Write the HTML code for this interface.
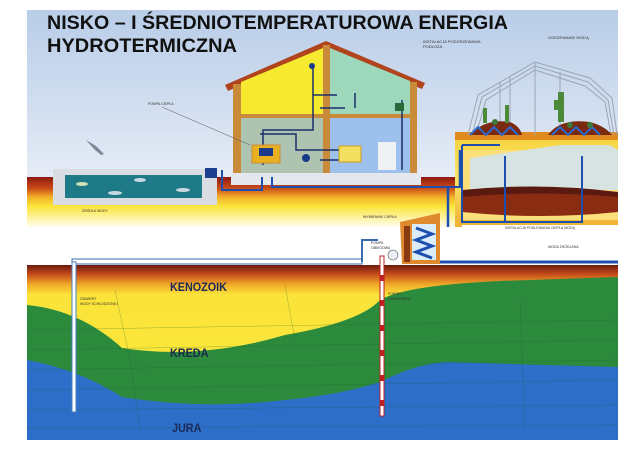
<!DOCTYPE html>
<html><head><meta charset="utf-8"><style>
html,body{margin:0;padding:0;background:#fff;width:640px;height:452px;overflow:hidden}
svg{display:block}
text{font-family:"Liberation Sans",sans-serif}
</style></head><body>
<svg width="640" height="452" viewBox="0 0 640 452" xmlns="http://www.w3.org/2000/svg">
<defs>
<linearGradient id="sky" x1="0" y1="0" x2="0" y2="1">
<stop offset="0" stop-color="#b9cde8"/><stop offset="0.6" stop-color="#d3dff0"/><stop offset="1" stop-color="#e6edf7"/></linearGradient>
<linearGradient id="gnd" x1="0" y1="0" x2="0" y2="1">
<stop offset="0" stop-color="#8e1a12"/><stop offset="0.22" stop-color="#c84a18"/><stop offset="0.4" stop-color="#f3b028"/><stop offset="0.58" stop-color="#fbe53a"/><stop offset="1" stop-color="#fffdf0"/></linearGradient>
<linearGradient id="geo" x1="0" y1="0" x2="0" y2="1">
<stop offset="0" stop-color="#6a1a10"/><stop offset="0.05" stop-color="#c2481a"/><stop offset="0.11" stop-color="#f0a828"/><stop offset="0.17" stop-color="#fbe43a"/><stop offset="1" stop-color="#fbe83a"/></linearGradient>
<linearGradient id="gh" x1="0" y1="0" x2="0" y2="1">
<stop offset="0" stop-color="#f6d23a"/><stop offset="0.5" stop-color="#fbe46a"/><stop offset="1" stop-color="#f0b030"/></linearGradient>
</defs>
<rect x="0" y="0" width="640" height="452" fill="#fff"/>
<rect x="27" y="10" width="591" height="170" fill="url(#sky)"/>
<rect x="27" y="177" width="435" height="50" fill="url(#gnd)"/>
<rect x="455" y="132" width="163" height="95" fill="url(#gh)"/>
<path d="M455 132 L618 132 L618 140 L455 140Z" fill="#e08a20"/>
<rect x="462" y="150" width="156" height="70" fill="#fbe07a"/>
<path d="M470 158 L560 145 L610 145 L618 150 L618 190 L470 190Z" fill="#cfe3f3" opacity="0.85"/>
<path d="M462 195 Q540 185 618 195 L618 212 Q540 220 462 212Z" fill="#8a2c12"/>
<path d="M462 190 Q540 182 618 192 L618 197 Q540 190 462 197Z" fill="#5a1a10"/>
<path d="M462 145 L462 222 L582 222 L582 156 M505 156 L505 222 M462 145 L500 145" stroke="#1d4fb0" stroke-width="2" fill="none"/>
<rect x="462" y="225" width="156" height="40" fill="#fff"/>
<g stroke="#9aa6b4" stroke-width="1" fill="none">
<path d="M468 135 L478 95 L535 62 L590 78 L612 98 L617 135"/>
<path d="M472 135 L482 97 L535 66 L588 82 L608 100 L614 135"/>
<path d="M476 135 L486 100 L535 70 L585 86 L605 102 L611 135"/>
<path d="M535 62 L535 135 M510 77 L510 135 M560 72 L560 135 M500 82 L500 135"/>
</g>
<path d="M470 135 Q485 118 510 122 Q520 126 522 135Z" fill="#7a2a10"/>
<path d="M548 135 Q560 118 590 122 Q605 126 612 135Z" fill="#7a2a10"/>
<path d="M470 135 l8 -8 l8 8 l8 -8 l8 8 l8 -8 l8 8 M552 135 l8 -8 l8 8 l8 -8 l8 8 l8 -8 l8 8" stroke="#2a6ad0" stroke-width="2" fill="none"/>
<rect x="558" y="92" width="6" height="30" fill="#4c8a3a"/><rect x="554" y="100" width="4" height="10" fill="#4c8a3a"/>
<rect x="505" y="105" width="4" height="18" fill="#4c8a3a"/><rect x="483" y="108" width="4" height="15" fill="#4c8a3a"/>
<circle cx="495" cy="122" r="3" fill="#3a7a3a"/><circle cx="570" cy="125" r="3" fill="#3a7a3a"/><circle cx="590" cy="125" r="3" fill="#3a7a3a"/>
<text x="423" y="43" font-size="4" fill="#333">INSTALACJA PODGRZEWANIA</text>
<text x="423" y="48" font-size="4" fill="#333">PODŁOŻA</text>
<text x="548" y="39" font-size="4" fill="#333">OGRZEWANIE WODĄ</text>
<text x="505" y="229" font-size="3.5" fill="#333">INSTALACJA PODLEWANIA CIEPŁĄ WODĄ</text>
<text x="548" y="248" font-size="3.5" fill="#333">WODA ŻRÓDLANA</text>
<rect x="53" y="169" width="164" height="36" fill="#d9dde2"/>
<rect x="65" y="175" width="137" height="23" fill="#1e7a86"/>
<rect x="205" y="168" width="12" height="10" fill="#1d3f8f"/>
<ellipse cx="82" cy="184" rx="6" ry="2" fill="#cfe0b0"/><ellipse cx="140" cy="180" rx="6" ry="2" fill="#c8d8e0"/><ellipse cx="115" cy="193" rx="7" ry="2" fill="#c8d8e0"/><ellipse cx="183" cy="190" rx="7" ry="2" fill="#c8d8e0"/>
<text x="82" y="212" font-size="3.5" fill="#333">ŻRÓDŁA WODY</text>
<path d="M86 140 l10 6 l8 8 l-3 1 l-7 -6Z" fill="#7a8898"/>
<path d="M225 85 L326 41 L425 83 L422 89 L326 48 L228 91Z" fill="#b0441c"/>
<path d="M241 82 L323 48 L323 115 L241 115Z" fill="#f6ea30"/>
<path d="M330 48 L410 81 L410 115 L330 115Z" fill="#9ed8bc"/>
<rect x="241" y="118" width="82" height="55" fill="#aec4b0"/>
<rect x="330" y="118" width="80" height="55" fill="#9ec0ec"/>
<rect x="233" y="84" width="8" height="92" fill="#c98a3a"/>
<rect x="410" y="82" width="7" height="94" fill="#c98a3a"/>
<rect x="323" y="45" width="7" height="131" fill="#c98a3a"/>
<rect x="233" y="114" width="184" height="4" fill="#c98a3a"/>
<rect x="231" y="173" width="190" height="12" fill="#e4e8ec"/>
<g stroke="#1a2f6a" stroke-width="1.5" fill="none">
<path d="M313 68 L313 130 L263 130 L263 165 M313 95 L337 95 M320 108 L345 108 M260 134 L296 134 L296 150 L340 150 M320 160 L340 160 M355 93 L355 108 M402 100 L402 170"/>
</g>
<rect x="252" y="145" width="28" height="18" fill="#e9b020" stroke="#c98a3a"/>
<rect x="259" y="148" width="14" height="8" fill="#1c3a8a"/>
<circle cx="306" cy="158" r="4" fill="#1c3a8a"/>
<rect x="339" y="146" width="22" height="16" fill="#f3e060" stroke="#c8a020"/>
<rect x="378" y="142" width="18" height="28" fill="#eef0f4"/>
<rect x="395" y="103" width="9" height="8" fill="#2a6a3a"/>
<circle cx="312" cy="66" r="3" fill="#1c3a8a"/>
<text x="148" y="105" font-size="3.5" fill="#333">POMPA CIEPŁA</text>
<path d="M162 107 L250 145" stroke="#555" stroke-width="0.5"/>
<path d="M272 177 L272 187 L462 187 M262 177 L262 190 L222 190 L222 170" stroke="#1d4fb0" stroke-width="2" fill="none"/>
<path d="M448 187 L448 262 M460 150 L460 187" stroke="#1d4fb0" stroke-width="2.5" fill="none"/>
<rect x="27" y="227" width="435" height="38" fill="#fff"/>
<rect x="27" y="265" width="591" height="175" fill="url(#geo)"/>
<path d="M27 305 Q80 310 122 348 Q200 360 285 335 Q360 322 380 300 Q410 283 530 280 L618 277 L618 440 L27 440Z" fill="#2c8a3c"/>
<path d="M27 360 Q80 370 122 397 Q200 410 285 400 Q340 395 380 382 Q420 362 450 362 Q540 365 618 367 L618 440 L27 440Z" fill="#2d6ec8"/>
<g stroke="#1a5a2a" stroke-width="0.4" opacity="0.5" fill="none">
<path d="M27 330 L618 320 M27 350 L618 340 M27 370 L618 360 M27 390 L618 380 M27 410 L618 405 M27 428 L618 425"/>
<path d="M115 290 L130 360 L140 430 M285 285 L295 340 M520 300 L525 430"/>
</g>
<text x="170" y="291" font-size="12" font-weight="bold" fill="#1a2a5a" transform="scale(0.9,1)" style="transform-origin:170px 291px">KENOZOIK</text>
<text x="170" y="357" font-size="12" font-weight="bold" fill="#1a2a4a" transform="scale(0.9,1)" style="transform-origin:170px 357px">KREDA</text>
<text x="172" y="432" font-size="12" font-weight="bold" fill="#1a2a5a" transform="scale(0.9,1)" style="transform-origin:172px 432px">JURA</text>
<rect x="72" y="259" width="290" height="5" fill="#fff" stroke="#3a6ab0" stroke-width="1"/>
<path d="M440 262 L618 262" stroke="#1d4fb0" stroke-width="3"/>
<path d="M362 262 L362 240 L378 240" stroke="#3a6ab0" stroke-width="2" fill="none"/>
<rect x="72" y="262" width="4" height="150" fill="#fff" stroke="#4a80c0" stroke-width="1"/>
<rect x="380" y="256" width="4" height="160" fill="#fff" stroke="#c02020" stroke-width="1"/>
<g fill="#c02020"><rect x="380" y="275" width="4" height="6"/><rect x="380" y="300" width="4" height="6"/><rect x="380" y="325" width="4" height="6"/><rect x="380" y="350" width="4" height="6"/><rect x="380" y="375" width="4" height="6"/><rect x="380" y="400" width="4" height="6"/></g>
<text x="80" y="300" font-size="3.5" fill="#333">ODWIERT</text>
<text x="80" y="305" font-size="3.5" fill="#333">WODY SCHŁODZONEJ</text>
<text x="388" y="295" font-size="3.5" fill="#333">POBÓR</text>
<text x="388" y="300" font-size="3.5" fill="#333">JURA/KREDA</text>
<path d="M400 222 L440 213 L440 264 L402 264Z" fill="#e08a30"/>
<rect x="404" y="226" width="6" height="36" fill="#8a3a10"/>
<rect x="412" y="224" width="24" height="36" fill="#d9ecf8"/>
<path d="M416 228 l16 6 l-16 6 l16 6 l-16 6 l16 6" stroke="#1d4fb0" stroke-width="3" fill="none"/>
<circle cx="393" cy="255" r="5" fill="#e8eef4" stroke="#555" stroke-width="0.6"/>
<text x="363" y="218" font-size="3.5" fill="#333">WYMIENNIK CIEPŁA</text>
<text x="371" y="244" font-size="3.5" fill="#333">POMPA</text>
<text x="371" y="249" font-size="3.5" fill="#333">OBIEGOWA</text>
<text x="47" y="29" font-size="19" font-weight="bold" fill="#111" textLength="461" lengthAdjust="spacingAndGlyphs">NISKO – I ŚREDNIOTEMPERATUROWA ENERGIA</text>
<text x="47" y="52" font-size="19" font-weight="bold" fill="#111" textLength="190" lengthAdjust="spacingAndGlyphs">HYDROTERMICZNA</text>
</svg>
</body></html>
